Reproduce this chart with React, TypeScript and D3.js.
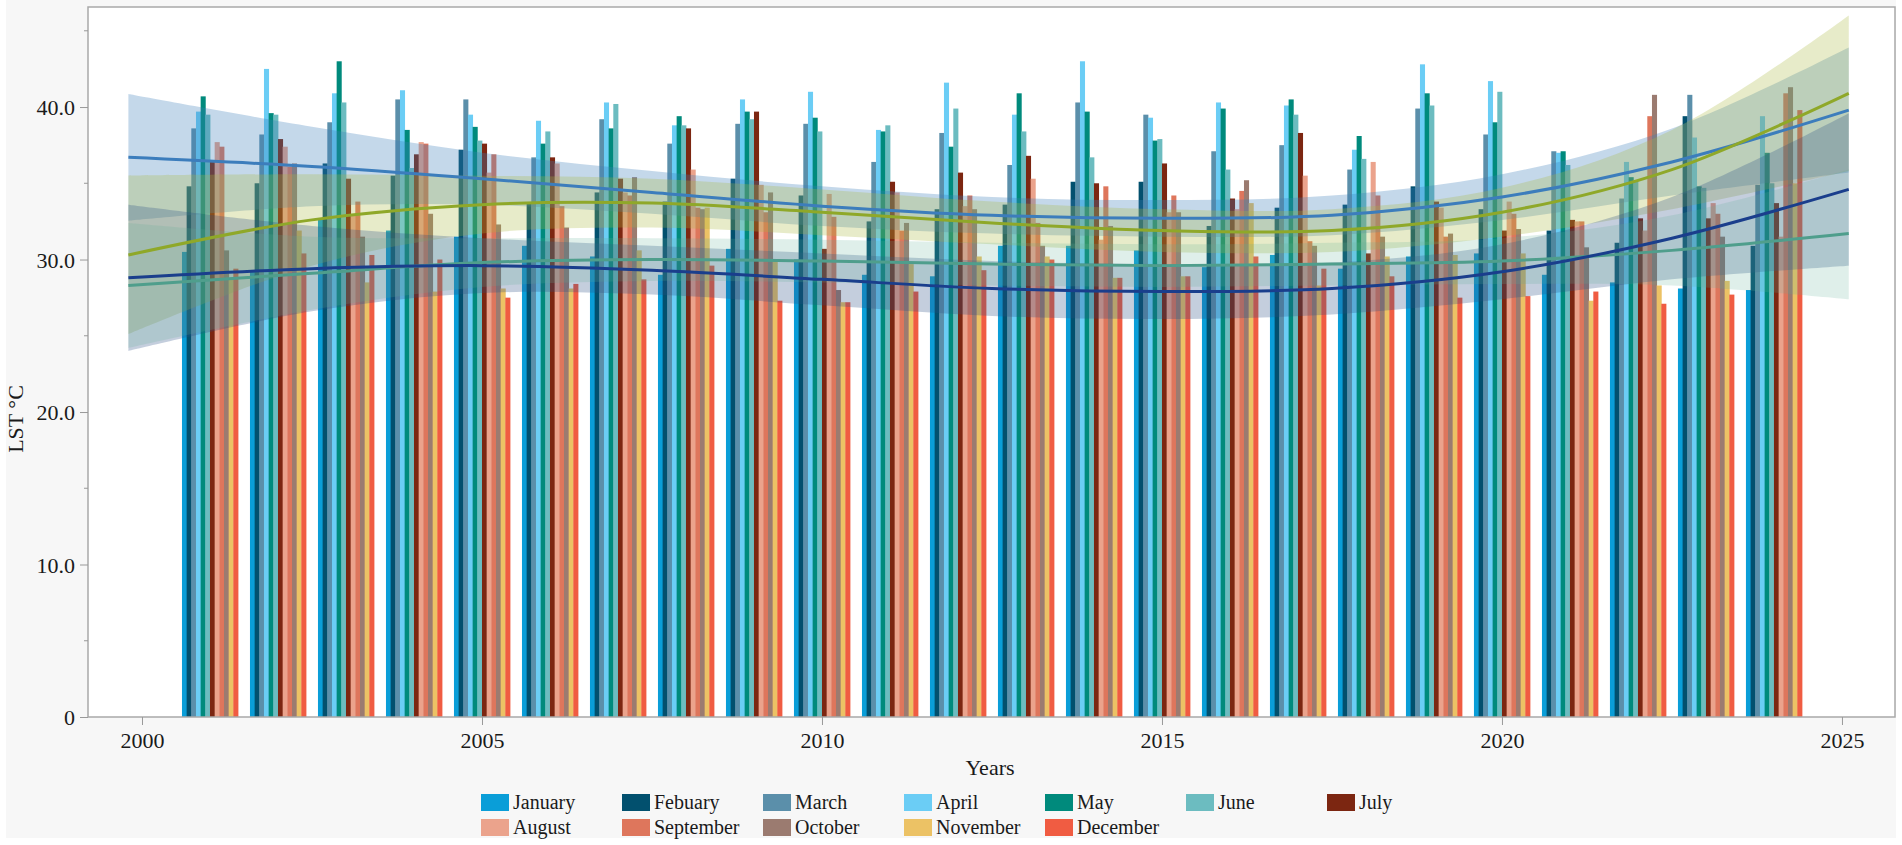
import React, { useEffect, useRef } from 'react';
import * as d3 from 'd3';

// categories
const years = [2001, 2002, 2003, 2004, 2005, 2006, 2007, 2008, 2009, 2010, 2011, 2012,
    2013, 2014, 2015, 2016, 2017, 2018, 2019, 2020, 2021, 2022, 2023, 2024];
const months = ['January', 'Febuary', 'March', 'April', 'May', 'June', 'July',
    'August', 'September', 'October', 'November', 'December'];
const monthColors = ['#0a9ed8', '#02506e', '#5b8faa', '#6bcdf5', '#008a7c', '#6cbcc0', '#7c2611',
    '#eba38c', '#de765c', '#9b7b70', '#ecc265', '#f05c42'];

// monthly LST (°C), one value per year 2001..2024
const january = [30.5, 29.2, 32.7, 31.9, 31.5, 30.9, 30.2, 29.0, 30.7, 30.0, 29.0, 28.9, 30.9, 30.9, 30.6, 29.5, 30.3, 29.4, 30.2, 30.4, 29.0, 28.5, 28.1, 28.0];
const february = [34.8, 35.0, 36.3, 35.5, 37.2, 33.7, 34.4, 33.8, 35.3, 34.2, 32.5, 33.3, 33.6, 35.1, 35.1, 32.2, 33.4, 33.6, 34.8, 33.3, 31.9, 31.1, 39.4, 30.9];
const march = [38.6, 38.2, 39.0, 40.5, 40.5, 36.7, 39.2, 37.6, 38.9, 38.9, 36.4, 38.3, 36.2, 40.3, 39.5, 37.1, 37.5, 35.9, 39.9, 38.2, 37.1, 34.0, 40.8, 34.9];
const april = [39.7, 42.5, 40.9, 41.1, 39.5, 39.1, 40.3, 38.8, 40.5, 41.0, 38.5, 41.6, 39.5, 43.0, 39.3, 40.3, 40.1, 37.2, 42.8, 41.7, 37.0, 36.4, 38.0, 39.4];
const may = [40.7, 39.6, 43.0, 38.5, 38.7, 37.6, 38.6, 39.4, 39.7, 39.3, 38.4, 37.4, 40.9, 39.7, 37.8, 39.9, 40.5, 38.1, 40.9, 39.0, 37.1, 35.4, 34.8, 37.0];
const june = [39.5, 39.5, 40.3, 36.0, 37.8, 38.4, 40.2, 38.8, 39.2, 38.4, 38.8, 39.9, 38.4, 36.7, 37.9, 35.9, 39.5, 36.6, 40.1, 41.0, 36.2, 35.2, 34.7, 35.0];
const july = [36.4, 37.9, 35.3, 36.9, 37.6, 36.7, 35.3, 38.6, 39.7, 30.7, 35.1, 35.7, 36.8, 35.0, 36.3, 34.0, 38.3, 30.4, 33.8, 31.9, 32.6, 32.7, 32.7, 33.7];
const august = [37.7, 37.4, 32.9, 37.7, 35.7, 36.3, 34.4, 35.9, 34.9, 34.3, 34.4, 33.5, 35.3, 31.3, 33.1, 33.3, 35.5, 36.4, 33.4, 33.8, 32.5, 31.9, 33.7, 31.5];
const september = [37.4, 36.1, 33.8, 37.6, 36.9, 33.5, 34.2, 33.4, 33.1, 32.8, 31.9, 34.2, 32.4, 34.8, 34.2, 34.5, 31.2, 34.2, 31.5, 33.0, 32.5, 39.4, 33.0, 40.9];
const october = [30.6, 36.3, 31.5, 33.0, 32.3, 32.1, 35.4, 33.3, 34.4, 28.0, 32.4, 33.3, 30.9, 32.2, 33.1, 35.2, 30.9, 31.5, 31.7, 32.0, 30.8, 40.8, 31.5, 41.3];
const november = [28.7, 31.9, 28.5, 27.9, 28.1, 28.1, 30.6, 33.4, 30.0, 27.2, 29.7, 30.2, 30.2, 28.8, 28.9, 33.7, 28.3, 30.2, 30.3, 30.4, 27.3, 28.3, 28.6, 35.0];
const december = [29.4, 30.4, 30.3, 30.0, 27.5, 28.4, 28.7, 29.6, 27.3, 27.2, 27.9, 29.3, 30.0, 28.8, 28.9, 30.2, 29.4, 28.9, 27.5, 27.6, 27.9, 27.1, 27.7, 39.8];
const monthValues = [january, february, march, april, may, june, july, august, september, october, november, december];

// fitted trend curves and their confidence bands, read at these years
const fitYears = [1999.8, 2002.5, 2005, 2007.5, 2010, 2012.5, 2015, 2017.5, 2020, 2022.5, 2025.1];
const fitSteel = [36.7, 36.1, 35.3, 34.4, 33.5, 32.9, 32.7, 32.9, 34.1, 36.4, 39.8];
const steelUpper = [40.85, 38.7, 37.0, 35.8, 34.8, 34.1, 33.9, 34.2, 35.6, 38.6, 43.9];
const steelLower = [32.55, 33.5, 33.6, 33.0, 32.2, 31.7, 31.5, 31.6, 32.6, 34.2, 35.7];
const fitOlive = [30.3, 32.6, 33.6, 33.7, 33.1, 32.4, 31.9, 31.9, 33.1, 35.9, 40.9];
const oliveUpper = [35.5, 35.6, 35.5, 35.3, 34.6, 33.8, 33.3, 33.3, 34.7, 38.5, 46.0];
const oliveLower = [25.1, 29.6, 31.7, 32.1, 31.6, 31.0, 30.5, 30.5, 31.5, 33.3, 35.8];
const fitNavy = [28.8, 29.4, 29.6, 29.3, 28.7, 28.1, 27.9, 28.1, 29.2, 31.4, 34.6];
const navyUpper = [33.6, 32.2, 31.4, 30.9, 30.4, 29.9, 29.7, 29.8, 31.0, 34.1, 39.6];
const navyLower = [24.0, 26.6, 27.8, 27.7, 27.0, 26.3, 26.1, 26.4, 27.4, 28.7, 29.6];
const fitTeal = [28.3, 29.1, 29.8, 30.0, 29.9, 29.7, 29.6, 29.7, 29.9, 30.6, 31.7];
const tealUpper = [32.4, 31.5, 31.4, 31.4, 31.3, 31.1, 31.0, 31.1, 31.4, 32.9, 35.9];
const tealLower = [24.2, 26.7, 28.2, 28.6, 28.5, 28.3, 28.2, 28.3, 28.4, 28.3, 27.4];

// tick labels
const xTicks = [2000, 2005, 2010, 2015, 2020, 2025];
const yTicks = [0, 10, 20, 30, 40];
const yTickLabels = ['0', '10.0', '20.0', '30.0', '40.0'];
const yMinorTicks = [5, 15, 25, 35, 45];

const FONT = '"Liberation Serif", "Times New Roman", serif';

const Chart: React.FC = () => {
    const chartRef = useRef<SVGSVGElement | null>(null);

    useEffect(() => {
        if (!chartRef.current) return;
        const width = 1902;
        const height = 845;
        const left = 88, right = 1895, top = 7, bottom = 717;

        const svg = d3.select(chartRef.current);
        svg.selectAll('*').remove();
        svg.attr('width', width).attr('height', height);

        // outer panel + plot frame
        svg.append('rect').attr('x', 6).attr('y', 0).attr('width', 1890).attr('height', 838).attr('fill', '#f7f7f7');
        svg.append('rect').attr('x', left).attr('y', top).attr('width', right - left).attr('height', bottom - top).attr('fill', '#fff');

        const x = d3.scaleLinear().domain([1999.206, 2025.78]).range([left, right]);
        const y = d3.scaleLinear().domain([0, 46.56]).range([bottom, top]);

        const groupHalf = (x(2001) - x(2000)) * 0.412;
        const inner = d3.scaleBand<string>().domain(months).range([-groupHalf, groupHalf]).padding(0);

        const bars = years.flatMap((yr, j) => months.map((m, i) => ({ yr, m, i, v: monthValues[i][j] })));

        svg.append('g').selectAll('rect')
            .data(bars)
            .join('rect')
            .attr('x', d => x(d.yr) + (inner(d.m) as number))
            .attr('y', d => y(d.v))
            .attr('width', inner.bandwidth() + 0.4)
            .attr('height', d => y(0) - y(d.v))
            .attr('fill', d => monthColors[d.i]);

        // confidence bands
        const bands = [
            { lo: steelLower, hi: steelUpper, color: '#3c7db8', op: 0.3 },
            { lo: oliveLower, hi: oliveUpper, color: '#a8b83c', op: 0.28 },
            { lo: navyLower, hi: navyUpper, color: '#2a4f86', op: 0.28 },
            { lo: tealLower, hi: tealUpper, color: '#5fae98', op: 0.2 },
        ];
        const area = d3.area<number>()
            .x((d, k) => x(fitYears[k]))
            .curve(d3.curveCatmullRom);
        bands.forEach(b => {
            svg.append('path')
                .attr('d', area.y0((d, k) => y(b.lo[k])).y1((d, k) => y(b.hi[k]))(b.lo) as string)
                .attr('fill', b.color)
                .attr('fill-opacity', b.op);
        });

        // fitted lines
        const fits = [
            { v: fitTeal, color: '#4f9e8c' },
            { v: fitNavy, color: '#1a3e8c' },
            { v: fitSteel, color: '#3c7dbc' },
            { v: fitOlive, color: '#8fa829' },
        ];
        const line = d3.line<number>()
            .x((d, k) => x(fitYears[k]))
            .y(d => y(d))
            .curve(d3.curveCatmullRom);
        fits.forEach(f => {
            svg.append('path')
                .attr('d', line(f.v) as string)
                .attr('fill', 'none')
                .attr('stroke', f.color)
                .attr('stroke-width', 3);
        });

        svg.append('rect').attr('x', left).attr('y', top).attr('width', right - left).attr('height', bottom - top)
            .attr('fill', 'none').attr('stroke', '#a9a9a9').attr('stroke-width', 1.5);

        // x axis
        const xAxis = svg.append('g')
            .attr('transform', `translate(0, ${bottom})`)
            .call(d3.axisBottom(x).tickValues(xTicks).tickSize(8).tickFormat(d3.format('d')));
        xAxis.select('.domain').remove();
        xAxis.selectAll('line').attr('stroke', '#999');
        xAxis.selectAll('text')
            .attr('y', 31).attr('dy', null)
            .style('font-family', FONT).style('font-size', '22px').attr('fill', '#1a1a1a');

        // y axis
        const yAxis = svg.append('g')
            .attr('transform', `translate(${left}, 0)`)
            .call(d3.axisLeft(y).tickValues(yTicks).tickSize(8).tickFormat((d, k) => yTickLabels[k]));
        yAxis.select('.domain').remove();
        yAxis.selectAll('line').attr('stroke', '#999');
        yAxis.selectAll('text')
            .attr('x', -13).attr('dy', '0.35em')
            .style('font-family', FONT).style('font-size', '22px').attr('fill', '#1a1a1a');
        svg.append('g').selectAll('line')
            .data(yMinorTicks)
            .join('line')
            .attr('x1', left - 4).attr('x2', left)
            .attr('y1', d => y(d)).attr('y2', d => y(d))
            .attr('stroke', '#999');

        // axis titles
        svg.append('text')
            .attr('x', 990).attr('y', 775)
            .attr('text-anchor', 'middle')
            .style('font-family', FONT).style('font-size', '22px').attr('fill', '#1a1a1a')
            .text('Years');
        svg.append('text')
            .attr('transform', 'translate(23, 419) rotate(-90)')
            .attr('text-anchor', 'middle')
            .style('font-family', FONT).style('font-size', '22px').attr('fill', '#1a1a1a')
            .text('LST °C');

        // legend
        const legend = svg.append('g');
        months.forEach((m, i) => {
            const lx = 481 + (i % 7) * 141;
            const ly = 794 + Math.floor(i / 7) * 25;
            legend.append('rect')
                .attr('x', lx).attr('y', ly)
                .attr('width', 28).attr('height', 17)
                .attr('fill', monthColors[i]);
            legend.append('text')
                .attr('x', lx + 32).attr('y', ly + 15)
                .style('font-family', FONT).style('font-size', '20px').attr('fill', '#1a1a1a')
                .text(m);
        });
    }, []);

    return <svg ref={chartRef} style={{ position: 'absolute', left: 0, top: 0 }} />;
};

export default function App() {
    return <Chart />;
}
